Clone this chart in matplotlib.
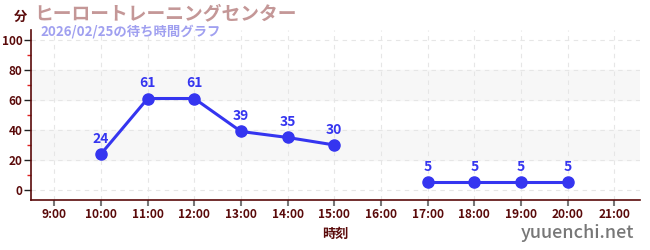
import matplotlib
matplotlib.use('Agg')
import matplotlib.pyplot as plt
import numpy as np

plt.rcParams['font.family'] = ['Noto Sans CJK JP', 'DejaVu Sans']

# データ
hours = [10, 11, 12, 13, 14, 15, 17, 18, 19, 20]
waits = [24, 61, 61, 39, 35, 30, 5, 5, 5, 5]
segments = [(0, 6), (6, 10)]  # 16:00 は欠測
tick_hours = list(range(9, 22))
tick_labels = [f"{h}:00" for h in tick_hours]
y_ticks = [0, 20, 40, 60, 80, 100]
bands = [(20, 40), (60, 80)]

title = 'ヒーロートレーニングセンター'
subtitle = '2026/02/25の待ち時間グラフ'

dark_red = '#5a0a0a'
blue = '#3535f0'

fig = plt.figure(figsize=(6.5, 2.5), dpi=100)
ax = fig.add_axes([31 / 650, 50 / 250, 609 / 650, 170 / 250])

ax.set_xlim(8.5, 21.55)
ax.set_ylim(-6.7, 106.7)

for lo, hi in bands:
    ax.axhspan(lo, hi, color='#f7f7f7', zorder=0)

ax.set_xticks(tick_hours)
ax.set_xticklabels(tick_labels)
ax.set_yticks(y_ticks)
ax.set_yticks([10, 30, 50, 70, 90], minor=True)
ax.grid(True, which='major', color='#e6e6e6', linestyle=(0, (4, 4)), linewidth=0.8)

for s, e in segments:
    ax.plot(hours[s:e], waits[s:e], color=blue, linewidth=2.2, marker='o',
            markersize=8, zorder=3)

for h, w in zip(hours, waits):
    ax.annotate(str(w), (h, w), xytext=(0, 6), textcoords='offset points',
                ha='center', va='bottom', color=blue, fontsize=10,
                fontweight='bold', zorder=4)

for side in ['top', 'right']:
    ax.spines[side].set_visible(False)
for side in ['left', 'bottom']:
    ax.spines[side].set_color(dark_red)
    ax.spines[side].set_linewidth(1.2)

ax.tick_params(axis='x', colors='#777777', labelcolor=dark_red, labelsize=8.6,
               length=4, width=1.5, pad=2)
ax.tick_params(axis='y', which='major', colors='#222222', labelcolor=dark_red,
               labelsize=8.5, length=5, width=1, pad=1)
ax.tick_params(axis='y', which='minor', colors='#e02020', length=3, width=1)
for lbl in ax.get_xticklabels() + ax.get_yticklabels():
    lbl.set_fontweight('bold')

ax.set_xlabel('時刻', color=dark_red, fontsize=9.5, fontweight='bold', labelpad=4)

fig.text(20 / 650, 1 - 17 / 250, '分', color=dark_red, fontsize=9.5,
         fontweight='bold', ha='center', va='center')
fig.text(34 / 650, 1 - 14 / 250, title, color='#c49797', fontsize=13.5,
         fontweight='bold', ha='left', va='center')
fig.text(40 / 650, 1 - 32 / 250, subtitle, color='#a0a0f0', fontsize=9.6,
         fontweight='bold', ha='left', va='center')
fig.text(634 / 650, 1 - 233 / 250, 'yuuenchi.net', color='#777777',
         fontsize=13, fontweight='medium', ha='right', va='center')

fig.savefig('out.png', dpi=100)
